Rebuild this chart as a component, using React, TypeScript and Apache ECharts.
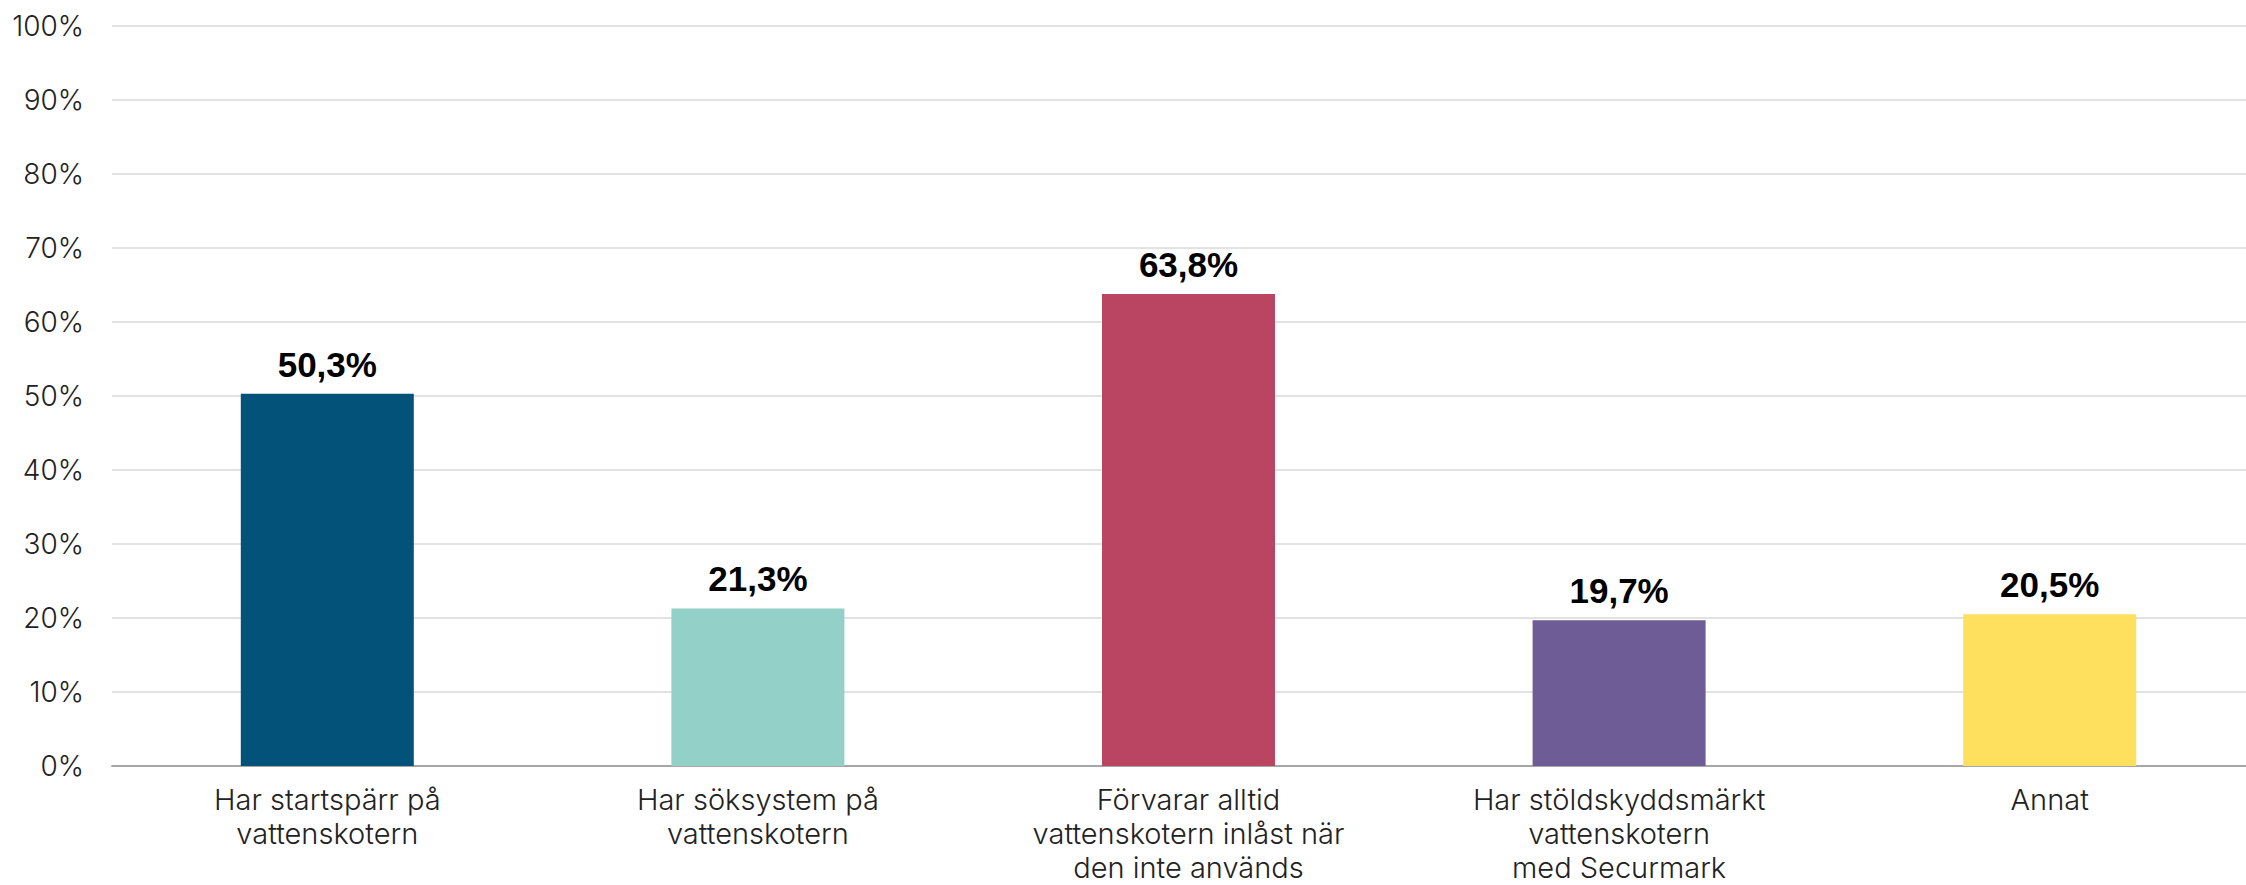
import React, { useEffect, useRef } from "react";
import * as echarts from "echarts";

const categories = [
  "Har startspärr på\nvattenskotern",
  "Har söksystem på\nvattenskotern",
  "Förvarar alltid\nvattenskotern inlåst när\nden inte används",
  "Har stöldskyddsmärkt\nvattenskotern\nmed Securmark",
  "Annat",
];
const values = [50.3, 21.3, 63.8, 19.7, 20.5];
const barColors = ["#03527A", "#92D0C8", "#BA4563", "#6E5C96", "#FFDF5E"];
const yTicks = { min: 0, max: 100, interval: 10 };

export default function App() {
  const ref = useRef<HTMLDivElement>(null);
  useEffect(() => {
    if (!ref.current) return;
    const chart = echarts.init(ref.current, undefined, { renderer: "svg" });
    chart.setOption({
      animation: false,
      backgroundColor: "#ffffff",
      grid: {
        left: 112,
        top: 26,
        bottom: 119,
        width: 2153,
        containLabel: false,
        outerBoundsMode: "none",
      },
      xAxis: {
        type: "category",
        data: categories,
        axisTick: { show: false },
        axisLine: { show: true, lineStyle: { color: "#A6A6A6", width: 2 } },
        axisLabel: {
          margin: 16,
          color: "#222222",
          fontFamily: "Inter",
          fontWeight: 300,
          fontSize: 29,
          lineHeight: 34,
          interval: 0,
        },
      },
      yAxis: {
        type: "value",
        min: yTicks.min,
        max: yTicks.max,
        interval: yTicks.interval,
        axisLine: { show: false },
        axisTick: { show: false },
        splitLine: { lineStyle: { color: "#D9D9D9", width: 1.5 } },
        axisLabel: {
          formatter: "{value}%",
          margin: 28,
          color: "#222222",
          fontFamily: "Inter",
          fontWeight: 300,
          fontSize: 28,
        },
      },
      series: [
        {
          type: "bar",
          barWidth: 173,
          data: values.map((v, i) => ({ value: v, itemStyle: { color: barColors[i] } })),
          label: {
            show: true,
            position: "top",
            distance: 12,
            color: "#000000",
            fontFamily: "Liberation Sans",
            fontWeight: "bold",
            fontSize: 35,
            formatter: (p: any) => p.value.toFixed(1).replace(".", ",") + "%",
          },
        },
      ],
    });
    return () => chart.dispose();
  }, []);
  return (
    <div
      ref={ref}
      style={{ position: "fixed", left: 0, top: 0, width: 2246, height: 885 }}
    />
  );
}
